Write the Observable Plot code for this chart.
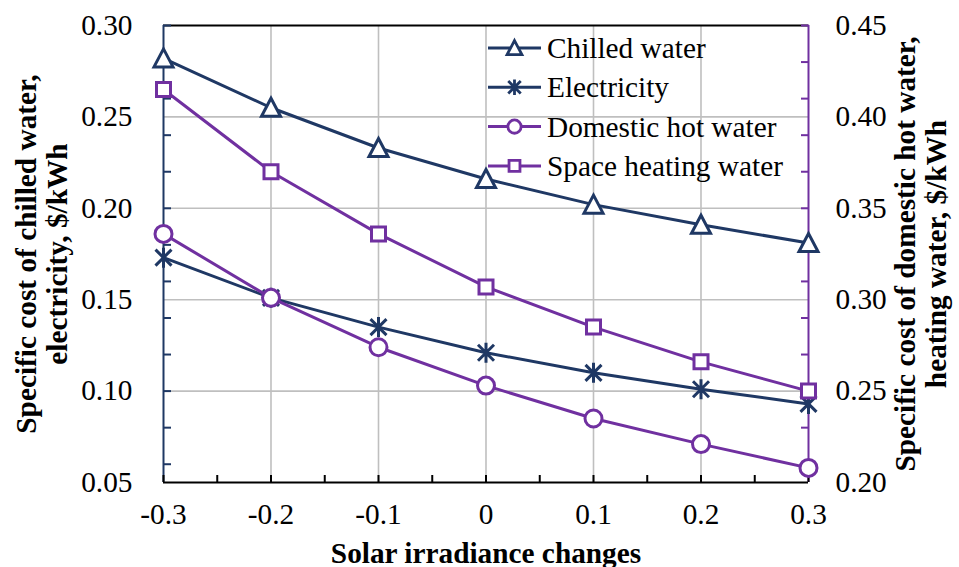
<!DOCTYPE html>
<html>
<head>
<meta charset="utf-8">
<script src="https://cdn.jsdelivr.net/npm/d3@7"></script>
<script src="https://cdn.jsdelivr.net/npm/@observablehq/plot@0.6"></script>
<style>
  html, body { margin: 0; padding: 0; background: #ffffff; }
  #chart svg { display: block; }
</style>
</head>
<body>
<div id="chart"></div>
<script>
// Solar irradiance change (fraction) on the x axis
const irradianceChanges = [-0.3, -0.2, -0.1, 0, 0.1, 0.2, 0.3];

// Left axis series, $/kWh
const chilledWater = [0.282, 0.255, 0.233, 0.216, 0.202, 0.191, 0.181];
const electricity  = [0.173, 0.151, 0.135, 0.121, 0.110, 0.101, 0.093];

// Right axis series, $/kWh
const domesticHotWater  = [0.336, 0.301, 0.274, 0.253, 0.235, 0.221, 0.208];
const spaceHeatingWater = [0.415, 0.370, 0.336, 0.307, 0.285, 0.266, 0.250];

const seriesNames = ["Chilled water", "Electricity", "Domestic hot water", "Space heating water"];

// Axis ticks
const xTicks = [-0.3, -0.2, -0.1, 0, 0.1, 0.2, 0.3];
const leftTicks = [0.05, 0.10, 0.15, 0.20, 0.25, 0.30];
const rightTicks = [0.20, 0.25, 0.30, 0.35, 0.40, 0.45];

const xTitle = "Solar irradiance changes";
const leftTitle = "Specific cost of chilled water,\nelectricity, $/kWh";
const rightTitle = "Specific cost of domestic hot water,\nheating water, $/kWh";

const NAVY = "#1f3864";
const PURPLE = "#7030a0";
const GRID = "#bfbfbf";
const FONT = "'Liberation Serif', 'Times New Roman', Times, serif";
const FONT_SIZE = 29.3;

// The right axis spans the same width as the left one, shifted by a constant.
const RIGHT_SHIFT = rightTicks[0] - leftTicks[0];
const toLeft = v => v - RIGHT_SHIFT;

// Marker shapes
const triangle = {
  draw(ctx) { ctx.moveTo(0, -9.5); ctx.lineTo(9.5, 8.5); ctx.lineTo(-9.5, 8.5); ctx.closePath(); }
};
const star = {
  draw(ctx) {
    ctx.moveTo(-8, -8); ctx.lineTo(8, 8);
    ctx.moveTo(8, -8); ctx.lineTo(-8, 8);
    ctx.moveTo(0, -10); ctx.lineTo(0, 10);
  }
};
const circle = {
  draw(ctx) { ctx.moveTo(8.5, 0); ctx.arc(0, 0, 8.5, 0, 2 * Math.PI); }
};
const square = {
  draw(ctx) { ctx.rect(-7, -7, 14, 14); }
};

const series = [
  { name: seriesNames[0], values: chilledWater,      right: false, color: NAVY,   symbol: triangle },
  { name: seriesNames[1], values: electricity,       right: false, color: NAVY,   symbol: star },
  { name: seriesNames[2], values: domesticHotWater,  right: true,  color: PURPLE, symbol: circle },
  { name: seriesNames[3], values: spaceHeatingWater, right: true,  color: PURPLE, symbol: square }
];

// Rows in left-axis units
const rowsFor = s => irradianceChanges.map((x, i) => ({
  series: s.name,
  x,
  y: s.right ? toLeft(s.values[i]) : s.values[i]
}));

const xDomain = [xTicks[0], xTicks[xTicks.length - 1]];
const yDomain = [leftTicks[0], leftTicks[leftTicks.length - 1]];
const smallY = d3.ticks(yDomain[0], yDomain[1], 10);   // every 0.025
const smallX = d3.ticks(xDomain[0], xDomain[1], 12);   // every 0.05

const titleStyle = { text: d => d, fontWeight: "bold", fill: "black", textAnchor: "middle", lineAnchor: "middle" };

const marks = [
  // gridlines
  Plot.gridX(xTicks.slice(1, -1), { stroke: GRID, strokeOpacity: 1, strokeWidth: 1.6 }),
  Plot.gridY(leftTicks.slice(1, -1), { stroke: GRID, strokeOpacity: 1, strokeWidth: 1.6 }),

  // frame lines
  Plot.ruleY([yDomain[1]], { stroke: "black", strokeWidth: 2 }),
  Plot.ruleY([yDomain[0]], { stroke: "black", strokeWidth: 2 }),
  Plot.ruleX([xDomain[0]], { stroke: NAVY, strokeWidth: 2 }),
  Plot.ruleX([xDomain[1]], { stroke: PURPLE, strokeWidth: 2 }),

  // inward tick marks
  Plot.axisY(smallY, { anchor: "left", tickSize: 8, dx: 8, stroke: NAVY, strokeWidth: 2, tickFormat: () => "", label: null }),
  Plot.axisY(smallY, { anchor: "right", tickSize: 8, dx: -8, stroke: PURPLE, strokeWidth: 2, tickFormat: () => "", label: null }),
  Plot.axisX(smallX, { anchor: "bottom", tickSize: 7, dy: -7, stroke: "black", strokeWidth: 2, tickFormat: () => "", label: null }),

  // tick labels
  Plot.axisY(leftTicks, { anchor: "left", tickSize: 0, tickPadding: 31, fill: "black", tickFormat: d => d.toFixed(2), label: null }),
  Plot.axisY(leftTicks, { anchor: "right", tickSize: 0, tickPadding: 27, fill: "black", tickFormat: d => (d + RIGHT_SHIFT).toFixed(2), label: null }),
  Plot.axisX(xTicks, { anchor: "bottom", tickSize: 0, tickPadding: 21, fill: "black", tickFormat: d => (d === 0 ? "0" : d.toFixed(1)), label: null }),

  // axis titles
  Plot.text([xTitle], { ...titleStyle, frameAnchor: "bottom", dy: 71 }),
  Plot.text([leftTitle], { ...titleStyle, frameAnchor: "left", rotate: -90, dx: -122, lineHeight: 1.08 }),
  Plot.text([rightTitle], { ...titleStyle, frameAnchor: "right", rotate: -90, dx: 112, lineHeight: 1.08 })
];

// series: line then markers, in drawing order
for (const s of series) {
  const rows = rowsFor(s);
  marks.push(Plot.line(rows, { x: "x", y: "y", stroke: s.color, strokeWidth: 3 }));
  marks.push(Plot.dot(rows, { x: "x", y: "y", symbol: s.symbol, r: 8, stroke: s.color, strokeWidth: 3, fill: "white" }));
}

const chart = Plot.plot({
  width: 959,
  height: 567,
  marginLeft: 163,
  marginRight: 151,
  marginTop: 25,
  marginBottom: 85,
  x: { domain: xDomain },
  y: { domain: yDomain },
  style: { fontFamily: FONT, fontSize: FONT_SIZE + "px", color: "black", background: "white", overflow: "visible" },
  marks
});

// Legend inside the plot area, top right
const legend = d3.select(chart).append("g")
  .attr("font-family", FONT)
  .attr("font-size", FONT_SIZE)
  .attr("text-anchor", "start")
  .attr("fill", "black");

series.forEach((s, i) => {
  const row = legend.append("g").attr("transform", `translate(488,${48 + i * 39.3})`);
  row.append("line")
    .attr("x1", 0).attr("x2", 53).attr("y1", 0).attr("y2", 0)
    .attr("stroke", s.color).attr("stroke-width", 3);
  row.append("path")
    .attr("d", d3.symbol(s.symbol)())
    .attr("transform", "translate(26.5,0) scale(0.78)")
    .attr("fill", "white").attr("stroke", s.color).attr("stroke-width", 3.6);
  row.append("text")
    .attr("x", 59).attr("dy", "0.34em")
    .attr("text-anchor", "start")
    .text(s.name);
});

document.getElementById("chart").appendChild(chart);
</script>
</body>
</html>
